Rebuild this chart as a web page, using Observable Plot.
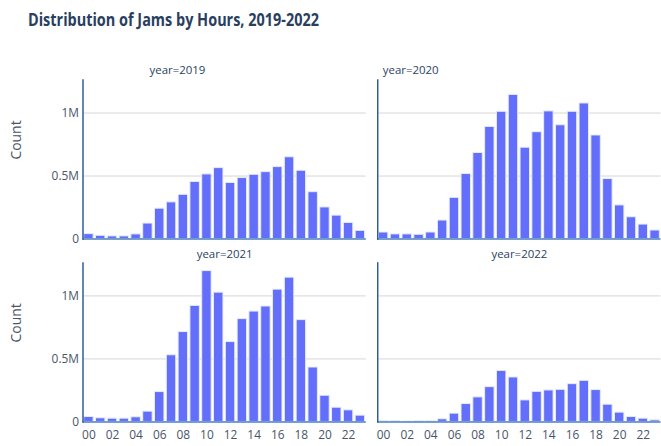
<!DOCTYPE html>
<html><head><meta charset="utf-8">
<script src="https://cdn.jsdelivr.net/npm/d3@7"></script>
<script src="https://cdn.jsdelivr.net/npm/@observablehq/plot@0.6"></script>
<style>
html,body{margin:0;padding:0;overflow:hidden;background:#fff;width:661px;height:446px}
#wrap{position:relative;width:661px;height:446px;overflow:hidden}
#title{position:absolute;left:28px;top:10px;font-family:"Open Sans";font-weight:bold;font-size:18px;line-height:1;color:#2a3f5f;white-space:nowrap;transform-origin:0 0;z-index:2}
#wrap svg{position:absolute;left:0;top:0}
</style></head><body><div id="wrap"><div id="title">Distribution of Jams by Hours, 2019-2022</div></div>
<script>
const years = [2019, 2020, 2021, 2022];
const hours = [0,1,2,3,4,5,6,7,8,9,10,11,12,13,14,15,16,17,18,19,20,21,22,23];
const jams2019 = [39000,26000,21000,21000,37000,123000,241000,291000,351000,453000,513000,563000,445000,484000,510000,531000,571000,649000,542000,372000,251000,186000,128000,65000];
const jams2020 = [52000,37000,37000,34000,52000,147000,327000,516000,683000,890000,1010000,1144000,725000,848000,1013000,903000,1010000,1076000,822000,476000,267000,173000,115000,68000];
const jams2021 = [39000,29000,26000,26000,37000,82000,237000,529000,713000,921000,1197000,1026000,634000,816000,876000,916000,1050000,1145000,808000,432000,208000,113000,92000,50000];
const jams2022 = [8000,5000,3000,5000,8000,21000,66000,142000,195000,276000,405000,353000,171000,239000,250000,255000,300000,326000,253000,137000,74000,39000,26000,13000];
const yTicks = [0, 500000, 1000000];
const yTickLabels = ["0", "0.5M", "1M"];
const xTicks = [0,2,4,6,8,10,12,14,16,18,20,22];
const xTickLabels = ["00","02","04","06","08","10","12","14","16","18","20","22"];

const series = [jams2019, jams2020, jams2021, jams2022];
const rows = [];
years.forEach((yr, i) => {
  series[i].forEach((v, h) => rows.push({year: yr, hour: hours[h], count: v, col: i % 2, row: Math.floor(i / 2)}));
});
const panels = years.map((yr, i) => ({year: yr, col: i % 2, row: Math.floor(i / 2)}));

const textColor = "#2a3f5f";
const chart = Plot.plot({
  width: 665, height: 446,
  marginTop: 80, marginBottom: 22, marginLeft: 83, marginRight: 0.5,
  fx: {domain: [0, 1], paddingInner: 0.0388, paddingOuter: 0, round: false, axis: null},
  fy: {domain: [0, 1], paddingInner: 0.1304, paddingOuter: 0, round: false, axis: null},
  x: {domain: hours, paddingInner: 0.2, paddingOuter: 0.1, round: false, axis: null},
  y: {domain: [0, 1262000], axis: null},
  style: {fontFamily: "Open Sans", fontSize: "12px", color: textColor, background: "transparent"},
  marks: [
    Plot.gridY(yTicks.slice(1), {stroke: "#d6d6d6", strokeOpacity: 1, strokeWidth: 1}),
    Plot.barY(rows, {x: "hour", y: "count", fx: "col", fy: "row", fill: "#636efa", stroke: "#e5ecf6", strokeWidth: 1}),
    Plot.ruleY([0], {stroke: "#4a7fbf", strokeWidth: 1.5}),
    Plot.frame({anchor: "left", stroke: "#2b5c9c", strokeWidth: 1.5}),
    Plot.axisY({facetAnchor: "left", ticks: yTicks, tickFormat: d => yTickLabels[yTicks.indexOf(d)], tickSize: 0, tickPadding: 4, fontSize: 12, fill: "#4a5568", label: null}),
    Plot.axisX({facetAnchor: "bottom", ticks: xTicks, tickFormat: d => xTickLabels[xTicks.indexOf(d)], tickSize: 0, tickPadding: 9, fontSize: 12, fill: "#4a5568", label: null}),
    Plot.text(panels.filter(p => p.year === 2019), {fx: "col", fy: "row", text: d => "year=" + d.year, frameAnchor: "top", dy: -10, dx: -47.5, lineAnchor: "middle", fontSize: 11.5, fill: textColor}),
    Plot.text(panels.filter(p => p.year === 2020), {fx: "col", fy: "row", text: d => "year=" + d.year, frameAnchor: "top", dy: -10, dx: -109.3, lineAnchor: "middle", fontSize: 11.5, fill: textColor}),
    Plot.text(panels.filter(p => p.row === 1), {fx: "col", fy: "row", text: d => "year=" + d.year, frameAnchor: "top", dy: -9, lineAnchor: "middle", fontSize: 11.5, fill: textColor}),
    Plot.text(panels.filter(p => p.col === 0), {fx: "col", fy: "row", text: () => "Count", frameAnchor: "left", dx: -67, rotate: -90, lineAnchor: "middle", fontSize: 14, fill: "#4a5568"})
  ]
});
document.getElementById("wrap").appendChild(chart);
const t = document.getElementById("title");
const w = t.getBoundingClientRect().width;
t.style.transform = "scaleX(" + (291 / w) + ")";
</script>
</body></html>
